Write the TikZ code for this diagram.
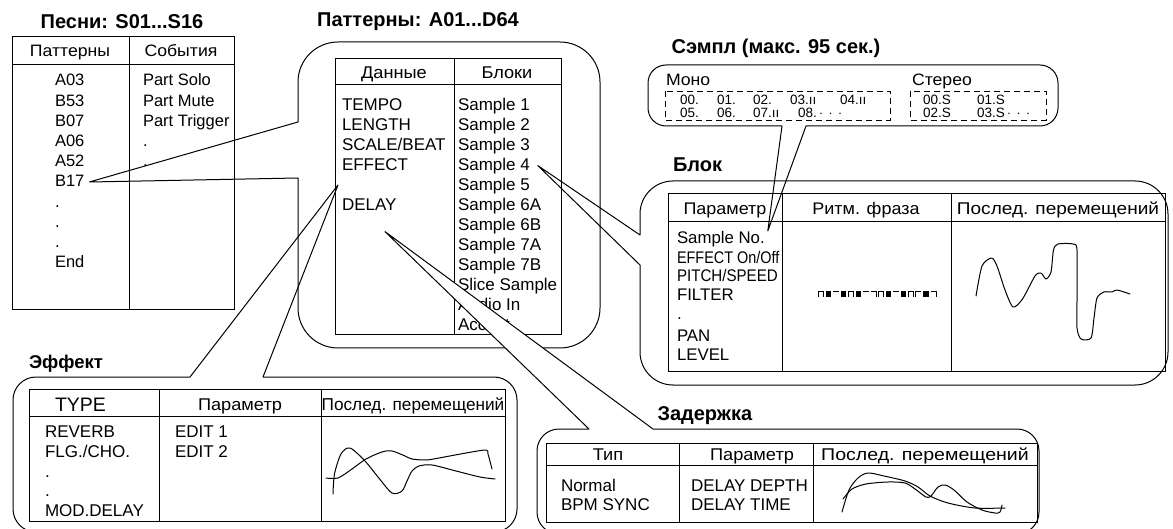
\documentclass[tikz,border=0pt]{standalone}
\usepackage{fontspec}
\setmainfont{Liberation Sans}
\newfontfamily\widef[FakeStretch=1.07]{Liberation Sans}
\usepackage{graphicx}
\usetikzlibrary{calc}
\newcommand\rhO[1]{\draw[rh] (#1,297.5) -- (#1,291.5) -- ++(5.5,0) -- ++(0,6);}
\newcommand\rhF[1]{\fill (#1,291.5) rectangle ++(5.5,6);}
\newcommand\rhL[1]{\draw[rh] (#1,291.5) -- ++(5.5,0);}
\newcommand\rhR[1]{\draw[rh] (#1,291.5) -- ++(5.5,0) -- ++(0,6);}
\newcommand\rhG[1]{\draw[rh] (#1,297.5) -- (#1,291.5) -- ++(5.5,0);}
\begin{document}
\begin{tikzpicture}[x=1pt,y=-1pt,
  every node/.style={inner sep=0pt, outer sep=0pt},
  txt/.style={font=\fontsize{16.5}{19}\selectfont, anchor=base west},
  ctxt/.style={font=\widef\fontsize{16.5}{19}\selectfont, anchor=base},
  ptxt/.style={font=\fontsize{17}{19}\selectfont, anchor=base west},
  btxt/.style={font=\fontsize{16.8}{19}\selectfont, anchor=base west},
  stxt/.style={font=\fontsize{13.5}{15}\selectfont, anchor=base west, text height=9.7pt, text depth=0pt},
  ttl/.style={font=\fontsize{20}{24}\selectfont\bfseries, anchor=base},
  ttlw/.style={font=\fontsize{20}{24}\selectfont\bfseries, anchor=base west},
  frame/.style={line width=1pt, line join=round},
  grid/.style={line width=1pt},
  curve/.style={line width=1pt, line join=round, line cap=round},
  rh/.style={line width=0.8pt},
  dashbox/.style={line width=0.8pt, dash pattern=on 6pt off 4pt}
]
\clip (0,0) rectangle (1173,529);

% ---------------- Song table ----------------
\node[ttl] (tSong) at (122,28.5) {Песни: S01...S16};
\draw[grid] (12,37) rectangle (234,310);
\draw[grid] (12,65) -- (234,65);
\draw[grid] (129,37) -- (129,310);
\node[ctxt] (hSongA) at (70,57) {Паттерны};
\node[ctxt] (hSongB) at (181,57) {События};
\foreach \t [count=\i from 0] in {A03,B53,B07,A06,A52,B17,.,.,.,End}
  \node[txt] (sp\i) at (55,86+20.2*\i) {\t};
\foreach \t [count=\i from 0] in {Part Solo,Part Mute,Part Trigger,.,.}
  \node[txt] (se\i) at (143,86+20.2*\i) {\t};
\coordinate (pB17) at ($(sp5.base east)+(5,-5)$);

% ---------------- Pattern box ----------------
\node[ttl] (tPat) at (418,27) {Паттерны: A01...D64};
\draw[frame] (pB17) -- (298,122) -- (298,82) arc[start angle=180,end angle=270,radius=40]
  -- (560,42) arc[start angle=270,end angle=360,radius=40]
  -- (600,308) arc[start angle=0,end angle=90,radius=40]
  -- (338,348) arc[start angle=90,end angle=180,radius=40]
  -- (298,178) -- cycle;
\draw[grid] (335,59) rectangle (561,335);
\draw[grid] (335,85) -- (561,85);
\draw[grid] (454,59) -- (454,335);
\node[ctxt,font=\widef\fontsize{17}{19}\selectfont] (hPatA) at (394,79) {Данные};
\node[ctxt,font=\widef\fontsize{17}{19}\selectfont] (hPatB) at (507,79) {Блоки};
\node[ptxt] (pd0) at (342,110.6) {TEMPO};
\node[ptxt] (pd1) at (342,130.6) {LENGTH};
\node[ptxt] (pd2) at (342,150.6) {SCALE/BEAT};
\node[ptxt] (pd3) at (342,170.6) {EFFECT};
\node[ptxt] (pd5) at (342,210.6) {DELAY};
\foreach \t [count=\i from 0] in {Sample 1,Sample 2,Sample 3,Sample 4,Sample 5,Sample 6A,Sample 6B,Sample 7A,Sample 7B,Slice Sample,Audio In,Accent}
  \node[ptxt] (pb\i) at (458,110.6+20*\i) {\t};
\coordinate (pS4) at ($(pb3.base east)+(8,-5)$);
\coordinate (pEff) at (338,185);
\coordinate (pDel) at ($(pd5.base west)+(43,21)$);

% ---------------- Block box ----------------
\node[ttlw] (tBlk) at (673,172) {Блок};
\draw[frame] (pS4) -- (640,235) -- (640,214) arc[start angle=180,end angle=270,radius=33]
  -- (1135,181) arc[start angle=270,end angle=360,radius=33]
  -- (1168,352) arc[start angle=0,end angle=90,radius=33]
  -- (673,385) arc[start angle=90,end angle=180,radius=33]
  -- (640,265) -- cycle;
\draw[grid] (668,194) rectangle (1165,371);
\draw[grid] (668,222) -- (1165,222);
\draw[grid] (782,194) -- (782,371);
\draw[grid] (951,194) -- (951,371);
\node[ctxt,font=\widef\fontsize{16.8}{19}\selectfont] (hBlkA) at (725,215) {Параметр};
\node[ctxt,font=\widef\fontsize{16.8}{19}\selectfont] (hBlkB) at (866,215) {Ритм. фраза};
\node[ctxt,font=\fontsize{17}{19}\selectfont] (hBlkC) at (1058,215) {\scalebox{1.12}[1]{Послед. перемещений}};
\node[btxt] (bp0) at (677,244) {Sample No.};
\node[btxt] (bp1) at (677,264) {\scalebox{0.86}[1]{EFFECT On/Off}};
\node[btxt] (bp2) at (677,282) {\scalebox{0.9}[1]{PITCH/SPEED}};
\node[btxt] (bp3) at (677,301) {FILTER};
\node[btxt] (bp4) at (677,320) {.};
\node[btxt] (bp5) at (677,341.5) {PAN};
\node[btxt] (bp6) at (677,361) {LEVEL};
\coordinate (pSN) at ($(bp0.base east)+(3,-13)$);
% rhythm phrase
\rhO{818}\rhF{825.5}\rhL{833}\rhF{840.5}\rhO{848}\rhF{855.5}\rhL{863}\rhR{870.5}
\rhO{878}\rhF{885.5}\rhL{893}\rhF{900.5}\rhO{908}\rhG{915.5}\rhF{923}\rhR{930.5}
% motion curve
\draw[curve] plot[smooth,tension=0.45] coordinates {(976,296) (982,266) (991.5,258) (997,266) (1005,290) (1013,307) (1022.5,299) (1035,276) (1041,273) (1046,279) (1051,272) (1053.5,250) (1058,244) (1073,244) (1077,250) (1077,300) (1077,328) (1081,339) (1091,338) (1094,318) (1097,298) (1104,292) (1112,292) (1117,290) (1130,294)};

% ---------------- Sample box ----------------
\node[ttl] (tSmp) at (776,54) {Сэмпл (макс. 95 сек.)};
\draw[frame] (pSN) -- (782,126) -- (666,126) arc[start angle=90,end angle=180,radius=18]
  -- (648,83) arc[start angle=180,end angle=270,radius=18]
  -- (1040,65) arc[start angle=270,end angle=360,radius=18]
  -- (1058,108) arc[start angle=0,end angle=90,radius=18]
  -- (806,126) -- cycle;
\node[txt,font=\widef\fontsize{16.5}{19}\selectfont] (mono) at (666,86) {Моно};
\node[txt,font=\widef\fontsize{16.5}{19}\selectfont] (stereo) at (912,86) {Стерео};
\draw[dashbox] (665,91) rectangle (890,120);
\draw[dashbox] (910,91) rectangle (1046,120);
\node[stxt] (m00) at (680,105) {00.};
\node[stxt] (m01) at (717,105) {01.};
\node[stxt] (m02) at (753,105) {02.};
\node[stxt] (m03) at (790,105) {03.ıı};
\node[stxt] (m04) at (840,105) {04.ıı};
\node[stxt] (m05) at (680,117.3) {05.};
\node[stxt] (m06) at (717,117.3) {06.};
\node[stxt] (m07) at (753,117.3) {07.ıı};
\node[stxt] (m08) at (798,117.3) {08.\,$\cdot\,\cdot\,\cdot$};
\node[stxt] (s00) at (923,105) {00.S};
\node[stxt] (s01) at (977,105) {01.S};
\node[stxt] (s02) at (923,117.3) {02.S};
\node[stxt] (s03) at (977,117.3) {03.S\,$\cdot\,\cdot\,\cdot$};

% ---------------- Effect box ----------------
\node[ttlw,font=\fontsize{18.5}{22}\selectfont\bfseries] (tEff) at (29,368.5) {Эффект};
\draw[frame] (pEff) -- (263,377) -- (494,377) arc[start angle=270,end angle=360,radius=23]
  -- (517,509) arc[start angle=0,end angle=90,radius=23]
  -- (36,532) arc[start angle=90,end angle=180,radius=23]
  -- (13,400) arc[start angle=180,end angle=270,radius=23]
  -- (190,377) -- cycle;
\draw[grid] (29.5,389.5) rectangle (505,521.7);
\draw[grid] (29.5,416.7) -- (505,416.7);
\draw[grid] (159.3,389.5) -- (159.3,521.7);
\draw[grid] (321,389.5) -- (321,521.7);
\node[txt,font=\fontsize{19.5}{22}\selectfont] (hEffA) at (55,411.3) {TYPE};
\node[ctxt,font=\widef\fontsize{17}{19}\selectfont] (hEffB) at (240,410.4) {Параметр};
\node[ctxt,font=\fontsize{17.2}{19}\selectfont] (hEffC) at (413,410.4) {Послед. перемещений};
\foreach \t [count=\i from 0] in {REVERB,FLG./CHO.,.,.,MOD.DELAY}
  \node[ptxt] (ef\i) at (45,437.8+19.6*\i) {\t};
\node[ptxt] (ep0) at (175,437.8) {EDIT 1};
\node[ptxt] (ep1) at (175,457.4) {EDIT 2};
\draw[curve] plot[smooth,tension=0.5] coordinates {(326,478) (338,478) (352,469) (366,459) (382,452) (392,451) (405,456) (412,459) (426,460) (439,458) (466,453) (486,450) (488,454) (492,469)};
\draw[curve] plot[smooth,tension=0.5] coordinates {(333,494) (334.5,474) (341,454) (350,448) (365,461) (378,477) (392,493) (402,491) (407,481) (412,471) (419,466) (432,465) (456,471) (480,477) (495,479)};

% ---------------- Delay box ----------------
\node[ttlw] (tDel) at (657.5,420) {Задержка};
\draw[frame,fill=white] (pDel) -- (653,429) -- (1017,429) arc[start angle=270,end angle=360,radius=22]
  -- (1039,512) arc[start angle=0,end angle=90,radius=22]
  -- (559,534) arc[start angle=90,end angle=180,radius=22]
  -- (537,451) arc[start angle=180,end angle=270,radius=22]
  -- (589,429) -- cycle;
\draw[grid] (546,443) rectangle (1037,522);
\draw[grid] (546,465) -- (1037,465);
\draw[grid] (679,443) -- (679,522);
\draw[grid] (813,443) -- (813,522);
\node[ctxt,font=\widef\fontsize{17}{19}\selectfont] (hDelA) at (608,460) {Тип};
\node[ctxt,font=\widef\fontsize{17}{19}\selectfont] (hDelB) at (752,460) {Параметр};
\node[ctxt,font=\fontsize{17}{19}\selectfont] (hDelC) at (925,460) {\scalebox{1.15}[1]{Послед. перемещений}};
\node[ptxt] (dt0) at (561,491) {Normal};
\node[ptxt] (dt1) at (561,510.5) {BPM SYNC};
\node[ptxt] (dp0) at (691,491) {DELAY DEPTH};
\node[ptxt] (dp1) at (691,510.5) {DELAY TIME};
\draw[curve] plot[smooth,tension=0.5] coordinates {(842,512) (849,490) (858,478) (868,473) (884,476) (905,481) (918,487) (930,496) (948,503) (975,508) (1005,508)};
\draw[curve] plot[smooth,tension=0.5] coordinates {(843,499) (852,489) (866,484) (888,482) (905,483) (915,489) (926,497) (931,496) (938,487) (945,485) (954,490) (967,502) (982,510) (995,513) (1000,512) (1002,505)};
\end{tikzpicture}
\end{document}
